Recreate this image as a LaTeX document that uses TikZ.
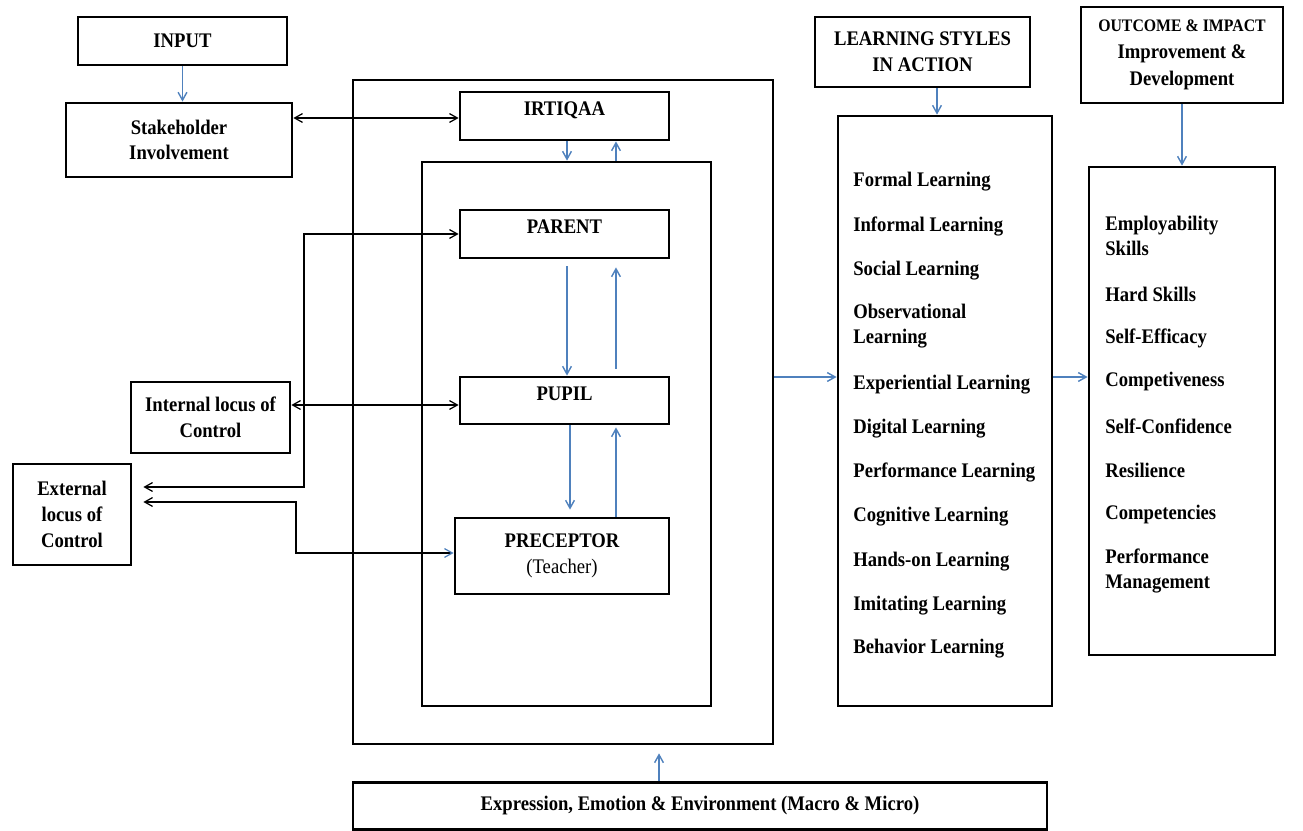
\documentclass[tikz,border=0pt]{standalone}
\usepackage{fontspec}
\setmainfont{Liberation Serif}[FakeStretch=0.9]
\usetikzlibrary{arrows.meta}
\definecolor{linkblue}{HTML}{4F81BD}

\begin{document}
\begin{tikzpicture}[x=0.02cm, y=-0.02cm,
		box/.style={draw, line width=1.6pt, inner sep=0pt, align=center,
			font=\fontsize{11.8}{14.6}\selectfont\bfseries},
		raised/.style={text depth=0.28cm},
		item/.style={anchor=west, align=left, inner sep=0pt,
			font=\fontsize{11.8}{14.6}\selectfont\bfseries},
		blk/.style={line width=0.7pt, -{Straight Barb[length=4.5pt,width=5pt]}},
		dbl/.style={line width=0.7pt, {Straight Barb[length=4.5pt,width=5pt]}-{Straight Barb[length=4.5pt,width=5pt]}},
		blu/.style={linkblue, line width=0.8pt, -{Straight Barb[length=4.5pt,width=5pt]}}
	]
	\useasboundingbox (0,0) rectangle (1303,831);

	% frames of the centre block
	\node[box, minimum width=8.4cm, minimum height=13.28cm] (outer) at (563,412) {};
	\node[box, minimum width=5.78cm, minimum height=10.88cm] (inner) at (566.5,434) {};

	% left column
	\node[box, minimum width=4.18cm, minimum height=0.96cm] (input) at (182.5,41) {INPUT};
	\node[box, minimum width=4.52cm, minimum height=1.48cm] (stake) at (179,140) {Stakeholder\\Involvement};
	\node[box, minimum width=3.18cm, minimum height=1.42cm] (internal) at (210.5,417.5) {Internal locus of\\Control};
	\node[box, minimum width=2.36cm, minimum height=2.02cm] (external) at (72,514.5) {External\\locus of\\Control};

	% centre
	\node[box, raised, minimum width=4.18cm, minimum height=0.96cm] (irtiqaa) at (564.5,116) {IRTIQAA};
	\node[box, raised, minimum width=4.18cm, minimum height=0.96cm] (parent) at (564.5,234) {PARENT};
	\node[box, raised, minimum width=4.18cm, minimum height=0.94cm] (pupil) at (564.5,400.5) {PUPIL};
	\node[box, minimum width=4.28cm, minimum height=1.52cm] (precep) at (562,556) {PRECEPTOR\\{\mdseries(Teacher)}};
	\node[box, minimum width=13.88cm, minimum height=0.94cm] (env) at (700,806) {Expression, Emotion \& Environment (Macro \& Micro)};

	% right columns
	\node[box, minimum width=4.3cm, minimum height=1.4cm] (lshead) at (922.5,52) {LEARNING STYLES\\IN ACTION};
	\node[box, minimum width=4.28cm, minimum height=11.8cm] (lbox) at (945,411) {};
	\node[box, minimum width=4.04cm, minimum height=1.92cm, font=\fontsize{11.8}{15.4}\selectfont\bfseries] (ohead) at (1182,55)
		{{\fontsize{10}{12}\selectfont OUTCOME \& IMPACT}\\Improvement \&\\Development};
	\node[box, minimum width=3.72cm, minimum height=9.76cm] (obox) at (1182,411) {};

	\foreach \txt/\yy [count=\i] in {Formal Learning/182, Informal Learning/226, Social Learning/271,
			{Observational\\Learning}/326, Experiential Learning/385, Digital Learning/429,
			Performance Learning/472, Cognitive Learning/517, Hands-on Learning/562,
			Imitating Learning/606, Behavior Learning/649}
		\node[item] (ls\i) at (853,\yy) {\txt};

	\foreach \txt/\yy [count=\i] in {{Employability\\Skills}/236, Hard Skills/294, Self-Efficacy/338,
			Competiveness/382, Self-Confidence/426, Resilience/470, Competencies/515,
			{Performance\\Management}/571}
		\node[item] (oc\i) at (1105,\yy) {\txt};

	\coordinate (ja) at (304,487);
	\coordinate (jb) at (296,502);
	\coordinate (jc) at (296,553);
	\coordinate (ly) at (800,377);

	% connectors
	\draw[blu] (input.south) -- (input.south |- stake.north);
	\draw[dbl] (stake.east |- 0,118) -- (irtiqaa.west |- 0,118);
	\draw[dbl] (internal.east |- 0,405) -- (pupil.west |- 0,405);
	\draw[dbl, shorten <=0.22cm] (external.east |- ja) -- (ja) |- (parent.west);
	\draw[line width=0.7pt, {Straight Barb[length=4.5pt,width=5pt]}-{Straight Barb[length=4.5pt,width=5pt,color=linkblue]}, shorten <=0.22cm]
		(external.east |- jb) -- (jb) -- (jc) -- (precep.west |- jc);

	\draw[blu] ([xshift=0.05cm]irtiqaa.south) -- ([xshift=0.05cm]irtiqaa.south |- inner.north);
	\draw[blu] ([xshift=1.03cm]irtiqaa.south |- inner.north) -- ([xshift=1.03cm]irtiqaa.south);
	\draw[blu, shorten <=0.14cm] ([xshift=0.05cm]parent.south) -- ([xshift=0.05cm]pupil.north);
	\draw[blu, shorten <=0.14cm, shorten >=0.16cm] ([xshift=1.03cm]pupil.north) -- ([xshift=1.03cm]parent.south);
	\draw[blu, shorten >=0.14cm] ([xshift=0.11cm]pupil.south) -- ([xshift=0.11cm]pupil.south |- precep.north);
	\draw[blu, shorten >=0.04cm] ([xshift=1.03cm]pupil.south |- precep.north) -- ([xshift=1.03cm]pupil.south);

	\draw[blu] (outer.east |- ly) -- (lbox.west |- ly);
	\draw[blu] (lbox.east |- ly) -- (obox.west |- ly);
	\draw[blu] ([xshift=0.29cm]lshead.south) -- ([xshift=0.29cm]lshead.south |- lbox.north);
	\draw[blu] (ohead.south) -- (obox.north);
	\draw[blu, shorten >=0.16cm] ([xshift=-0.82cm]env.north) -- ([xshift=-0.82cm]env.north |- outer.south);
\end{tikzpicture}
\end{document}
